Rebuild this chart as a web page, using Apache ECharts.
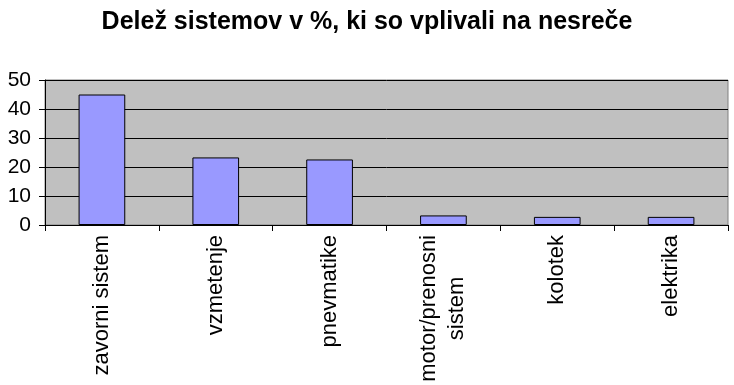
<!DOCTYPE html>
<html><head><meta charset="utf-8">
<script src="https://cdn.jsdelivr.net/npm/echarts@6/dist/echarts.min.js"></script>
<style>html,body{margin:0;padding:0;background:#fff}#c{width:734px;height:385px}</style>
</head><body><div id="c"></div>
<script>
const categories = ['zavorni sistem', 'vzmetenje', 'pnevmatike', 'motor/prenosni\nsistem', 'kolotek', 'elektrika'];
const values = [45, 23.3, 22.6, 3.3, 2.8, 2.8];
const yTicks = [0, 10, 20, 30, 40, 50];
const title = 'Delež sistemov v %, ki so vplivali na nesreče';

const chart = echarts.init(document.getElementById('c'), null, {renderer: 'canvas'});
chart.setOption({
  animation: false,
  backgroundColor: '#ffffff',
  title: {
    text: title, left: 'center', top: 5,
    textStyle: {fontFamily: 'Liberation Sans', fontSize: 25, fontWeight: 'bold', color: '#000'}
  },
  grid: {left: 45, right: 6, top: 80, bottom: 160, containLabel: false, outerBoundsMode: 'none',
         show: true, backgroundColor: '#c0c0c0', borderColor: '#808080', borderWidth: 1},
  xAxis: {
    type: 'category', data: categories,
    axisLine: {lineStyle: {color: '#000', width: 1}},
    axisTick: {show: true, length: 6, lineStyle: {color: '#000'}},
    axisLabel: {
      rotate: 90, margin: 10, interval: 0, color: '#000',
      fontFamily: 'Liberation Sans', fontSize: 22, lineHeight: 28,
      formatter: function (v) { return v.split('\n').map(function (s) { return '{c|' + s + '}'; }).join('\n'); },
      rich: {c: {align: 'center', fontFamily: 'Liberation Sans', fontSize: 22, lineHeight: 28, color: '#000'}}
    }
  },
  yAxis: {
    type: 'value', min: yTicks[0], max: yTicks[yTicks.length - 1], interval: 10,
    axisLine: {show: true, lineStyle: {color: '#000', width: 1}},
    axisTick: {show: true, length: 6, lineStyle: {color: '#000'}},
    splitLine: {show: true, lineStyle: {color: '#000', width: 1}},
    axisLabel: {fontFamily: 'Liberation Sans', fontSize: 21, color: '#000', margin: 14}
  },
  series: [{
    type: 'bar', data: values, barWidth: '41%',
    itemStyle: {color: '#9999ff', borderColor: '#000', borderWidth: 1}
  }]
});
</script></body></html>
